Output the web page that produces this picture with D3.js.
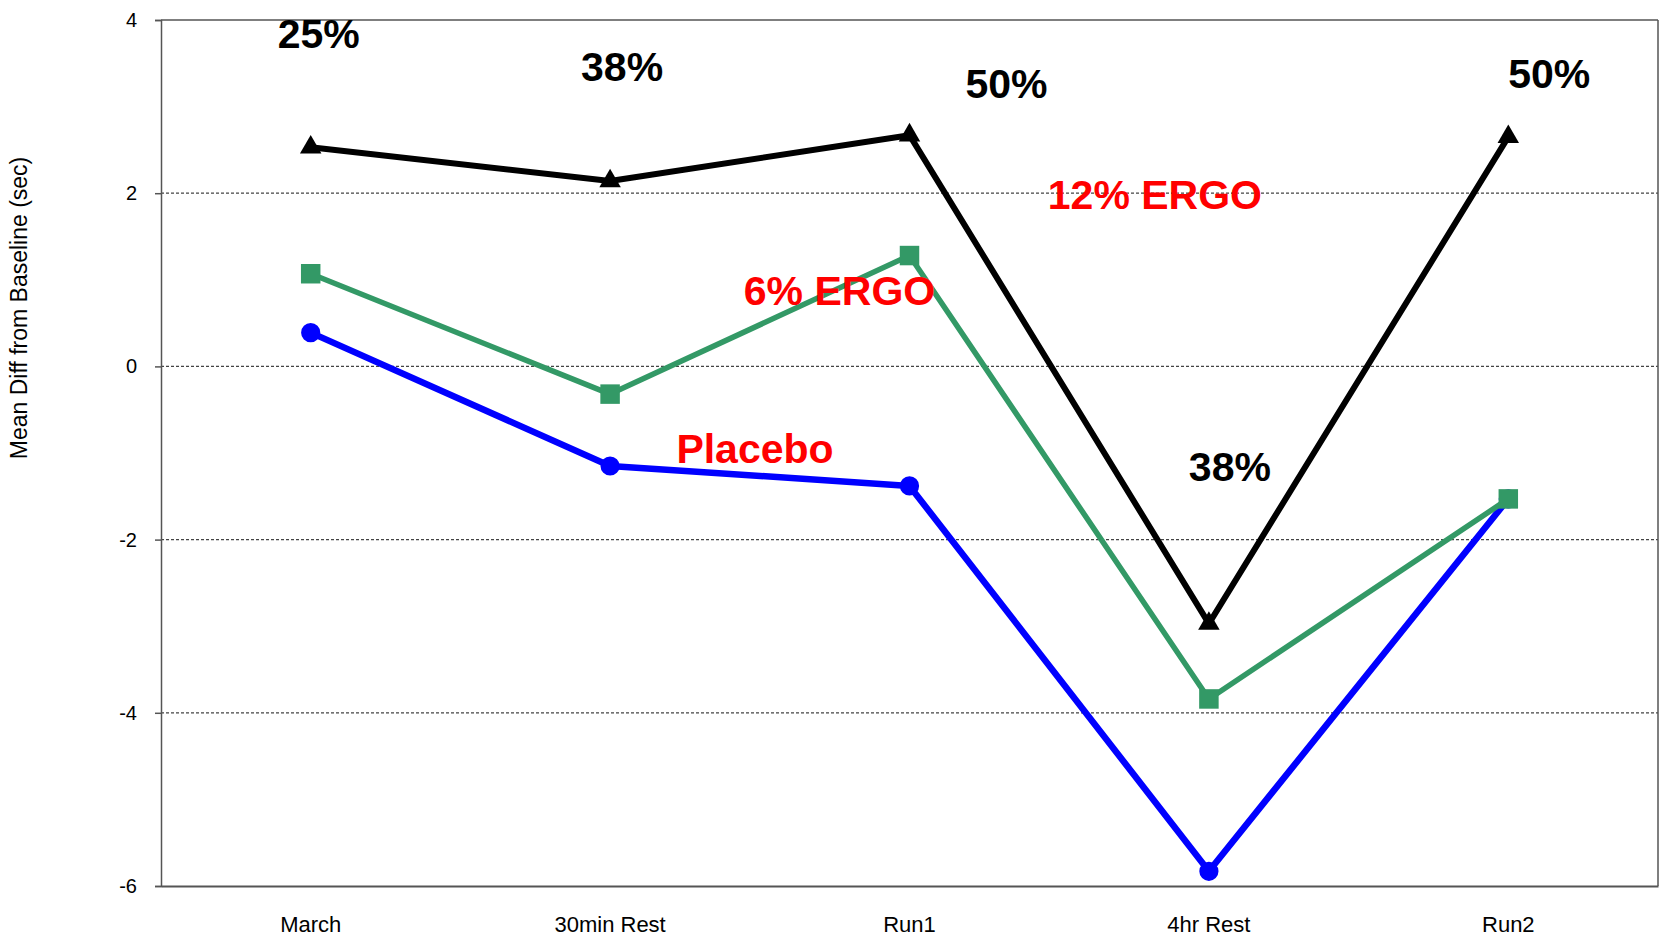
<!DOCTYPE html>
<html>
<head>
<meta charset="utf-8">
<script src="https://cdn.jsdelivr.net/npm/d3@7"></script>
<style>
  html, body { margin: 0; padding: 0; background: #fff; }
  svg { display: block; font-family: "Liberation Sans", Arial, sans-serif; }
</style>
</head>
<body>
<svg id="chart" width="1662" height="944"></svg>
<script>
// ---- data ----
const categories = ["March", "30min Rest", "Run1", "4hr Rest", "Run2"];
const placebo = [0.39, -1.15, -1.38, -5.83, -1.53];
const ergo6   = [1.07, -0.32, 1.28, -3.84, -1.53];
const ergo12  = [2.53, 2.14, 2.67, -2.97, 2.65];
const yTicks  = [-6, -4, -2, 0, 2, 4];
const gridValues = [-4, -2, 0, 2];
// annotation texts, anchored to a category and a value
const pctLabels = ["25%", "38%", "50%", "38%", "50%"];
const pctCats   = ["March", "30min Rest", "Run1", "4hr Rest", "Run2"];
const pctVals   = [3.68, 3.30, 3.105, -1.32, 3.215];
const pctDx     = [8, 12, 97, 21, 41];
const seriesLabels = ["Placebo", "6% ERGO", "12% ERGO"];
const seriesLabelCats = ["Run1", "Run1", "4hr Rest"];
const seriesLabelVals = [-1.12, 0.71, 1.82];
const seriesLabelDx = [-154.5, -70, -54];

// ---- layout ----
const W = 1662, H = 944;
const margin = { top: 20, right: 4, bottom: 58, left: 161 };
const iw = W - margin.left - margin.right;
const ih = H - margin.top - margin.bottom;

const svg = d3.select("#chart");
const g = svg.append("g").attr("transform", `translate(${margin.left},${margin.top})`);

const x = d3.scaleBand().domain(categories).range([0, iw]).padding(0);
const y = d3.scaleLinear().domain([-6, 4]).range([ih, 0]);
const cx = c => x(c) + x.bandwidth() / 2;

// gridlines
g.append("g").selectAll("line").data(gridValues).join("line")
  .attr("x1", 0).attr("x2", iw)
  .attr("y1", d => y(d)).attr("y2", d => y(d))
  .attr("stroke", "#444").attr("stroke-width", 1.2)
  .attr("stroke-dasharray", "3,2");

// frame (top & right)
g.append("line").attr("x1", 0).attr("x2", iw).attr("y1", 0).attr("y2", 0)
  .attr("stroke", "#555").attr("stroke-width", 1.5);
g.append("line").attr("x1", iw).attr("x2", iw).attr("y1", 0).attr("y2", ih)
  .attr("stroke", "#555").attr("stroke-width", 1.5);

// y axis
const yAxis = g.append("g").call(d3.axisLeft(y).tickValues(yTicks).tickSize(6).tickPadding(18).tickFormat(d => String(d)));
yAxis.select(".domain").attr("stroke", "#555").attr("stroke-width", 1.5);
yAxis.selectAll(".tick line").attr("stroke", "#555").attr("stroke-width", 1.5);
yAxis.selectAll(".tick text").attr("font-size", 20).attr("fill", "#000")
  .attr("font-family", "Liberation Sans, Arial, sans-serif");

// x axis
const xAxis = g.append("g").attr("transform", `translate(0,${ih})`)
  .call(d3.axisBottom(x).tickSize(0).tickPadding(30));
xAxis.select(".domain").attr("stroke", "#555").attr("stroke-width", 2);
xAxis.selectAll(".tick text").attr("font-size", 22).attr("fill", "#000")
  .attr("font-family", "Liberation Sans, Arial, sans-serif");

// y label
svg.append("text")
  .attr("transform", `translate(27,308) rotate(-90)`)
  .attr("text-anchor", "middle")
  .attr("font-size", 23)
  .attr("fill", "#000")
  .text("Mean Diff from Baseline (sec)");

// series
const series = [
  { name: "Placebo", values: placebo, color: "#0000ff", width: 6.5, symbol: d3.symbolCircle, size: 290 },
  { name: "6% ERGO", values: ergo6, color: "#339966", width: 5.5, symbol: d3.symbolSquare, size: 380 },
  { name: "12% ERGO", values: ergo12, color: "#000000", width: 6, symbol: d3.symbolTriangle, size: 200 }
];

const line = d3.line().x((d, i) => cx(categories[i])).y(d => y(d));

series.forEach(s => {
  g.append("path").datum(s.values)
    .attr("d", line)
    .attr("fill", "none")
    .attr("stroke", s.color)
    .attr("stroke-width", s.width)
    .attr("stroke-linejoin", "round");
  g.append("g").selectAll("path").data(s.values).join("path")
    .attr("transform", (d, i) => `translate(${cx(categories[i])},${y(d)})`)
    .attr("d", d3.symbol().type(s.symbol).size(s.size))
    .attr("fill", s.color);
});

// percentage labels
g.append("g").selectAll("text").data(pctLabels).join("text")
  .attr("x", (d, i) => cx(pctCats[i]) + pctDx[i])
  .attr("y", (d, i) => y(pctVals[i]))
  .attr("text-anchor", "middle")
  .attr("font-size", 41)
  .attr("font-weight", "bold")
  .attr("fill", "#000")
  .text(d => d);

// series labels
g.append("g").selectAll("text").data(seriesLabels).join("text")
  .attr("x", (d, i) => cx(seriesLabelCats[i]) + seriesLabelDx[i])
  .attr("y", (d, i) => y(seriesLabelVals[i]))
  .attr("text-anchor", "middle")
  .attr("font-size", 41)
  .attr("font-weight", "bold")
  .attr("fill", "#ff0000")
  .text(d => d);
</script>
</body>
</html>
